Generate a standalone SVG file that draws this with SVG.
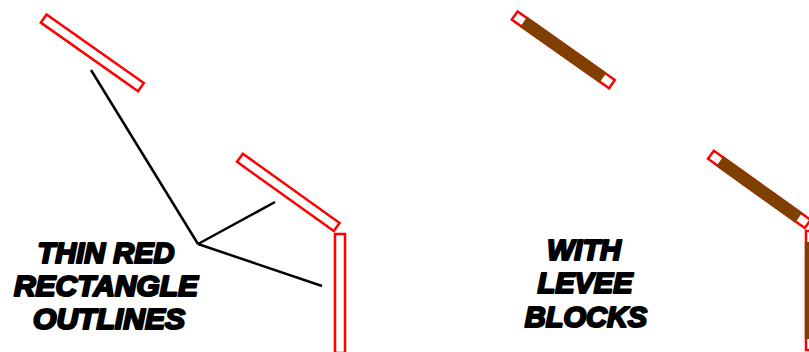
<svg xmlns="http://www.w3.org/2000/svg" width="809" height="352" viewBox="0 0 809 352">
<style>
.out{fill:#fff;stroke:#ff0000;stroke-width:2.5}
.lev{fill:#7f3f00;stroke:none}
.con{stroke:#000;stroke-width:2.5;fill:none;stroke-linecap:butt}
.lbl{font-family:"Liberation Sans",Arial,sans-serif;font-weight:bold;font-style:italic;font-size:29px;fill:#000;stroke:#000;stroke-width:2.2;stroke-linejoin:round;text-anchor:middle}
</style>
<rect width="809" height="352" fill="#fff"/>
<g id="left-rect-1" transform="translate(92.3,52.8) rotate(35.2)">
<rect class="out" x="-59.5" y="-5" width="119" height="10"/>
</g>
<g id="left-rect-2" transform="translate(288.3,192.4) rotate(35.6)">
<rect class="out" x="-59.5" y="-5" width="119" height="10"/>
</g>
<g id="left-rect-3">
<rect class="out" x="335" y="234" width="10" height="119"/>
</g>
<g id="connectors">
<line class="con" x1="198" y1="244" x2="91" y2="70"/>
<line class="con" x1="198" y1="244" x2="275" y2="202"/>
<line class="con" x1="198" y1="244" x2="322" y2="286"/>
</g>
<g id="label-left">
<text class="lbl" x="106" y="263">THIN RED</text>
<text class="lbl" x="106" y="296" textLength="184" lengthAdjust="spacingAndGlyphs">RECTANGLE</text>
<text class="lbl" x="109" y="329" textLength="152" lengthAdjust="spacingAndGlyphs">OUTLINES</text>
</g>
<g id="right-rect-1" transform="translate(563.3,49.8) rotate(35.2)">
<rect class="out" x="-59.5" y="-5" width="119" height="10"/>
<rect class="lev" x="-48.5" y="-6.2" width="97" height="12.4"/>
</g>
<g id="right-rect-2" transform="translate(759.3,189.4) rotate(35.6)">
<rect class="out" x="-59.5" y="-5" width="119" height="10"/>
<rect class="lev" x="-48.5" y="-6.2" width="97" height="12.4"/>
</g>
<g id="right-rect-3">
<rect class="out" x="806" y="231" width="10" height="119"/>
<rect class="lev" x="804.8" y="242" width="12.4" height="97"/>
</g>
<g id="label-right">
<text class="lbl" x="584" y="260">WITH</text>
<text class="lbl" x="585" y="293">LEVEE</text>
<text class="lbl" x="586" y="327">BLOCKS</text>
</g>
</svg>
